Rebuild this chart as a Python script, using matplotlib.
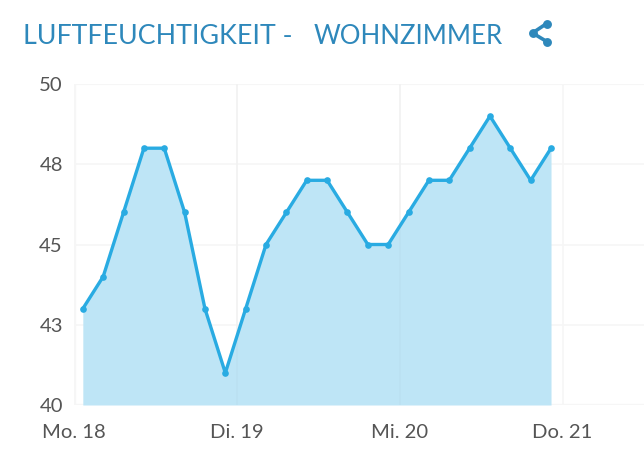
import numpy as np
import matplotlib
matplotlib.use("Agg")
import matplotlib.pyplot as plt
from matplotlib.lines import Line2D
from matplotlib.transforms import ScaledTranslation

plt.rcParams['font.family'] = ['Lato', 'DejaVu Sans']

W, H = 644, 462
title_left = "LUFTFEUCHTIGKEIT -"
title_right = "WOHNZIMMER"
hours = [1.3 + 3 * i for i in range(24)]
humidity = [43, 44, 46, 48, 48, 46, 43, 41, 43, 45, 46, 47, 47, 46, 45, 45, 46, 47, 47, 48, 49, 48, 47, 48]
y_ticks = [40, 42.5, 45, 47.5, 50]
y_labels = ["40", "43", "45", "48", "50"]
x_ticks = [0, 24, 48, 72]
x_labels = ["Mo. 18", "Di. 19", "Mi. 20", "Do. 21"]

LINE = "#29ABE2"
TITLE = "#2E88BB"
GRID = "#F6F6F6"
TEXT = "#555555"

fig = plt.figure(figsize=(W / 100, H / 100), dpi=100)
ax = fig.add_axes([74 / W, 1 - 405 / H, (W - 74) / W, (405 - 84) / H])
ax.set_xlim(0, 84)
ax.set_ylim(40, 50)
ax.set_axisbelow(True)
ax.grid(True, color=GRID, lw=1.2)
for s in ax.spines.values():
    s.set_visible(False)
ax.axvline(0, color=GRID, lw=2.4)
ax.axhline(40, color=GRID, lw=2.4)
ax.axhline(50, color=GRID, lw=1.6)
ax.fill_between(hours, humidity, 40, color="#BEE5F6", lw=0, zorder=2)
for t in x_ticks[1:3]:
    ax.plot([t, t], [40, 50], color="#000000", alpha=0.02, lw=1.2, zorder=2.5)
ax.plot(hours, humidity, color=LINE, lw=2.4, marker="o", ms=4.8, mew=0,
        clip_on=False, zorder=3, solid_joinstyle="round")
ax.set_xticks(x_ticks, x_labels)
ax.set_yticks(y_ticks, y_labels)
ax.tick_params(length=0, labelsize=14.6, labelcolor=TEXT, pad=0)
ax.tick_params(axis="x", pad=13.7)
ax.tick_params(axis="y", pad=8)
shift = ScaledTranslation(0, -1.2 / 72, fig.dpi_scale_trans)
for lab in ax.get_yticklabels():
    lab.set_va("center")
    lab.set_transform(lab.get_transform() + shift)

fig.text(23 / W, 1 - 36 / H, title_left, color=TITLE, fontsize=19.3, va="center", ha="left")
fig.text(314 / W, 1 - 36 / H, title_right, color=TITLE, fontsize=18.6, va="center", ha="left")

# share icon
pts = [(546.7, 23.5), (532.5, 33), (546.7, 41.5)]
px = lambda x, y: (x / W, 1 - y / H)
xs, ys = zip(*[px(*p) for p in pts])
fig.add_artist(Line2D(xs, ys, color=TITLE, lw=2.6))
for p in pts:
    fig.add_artist(Line2D([px(*p)[0]], [px(*p)[1]], marker="o", ms=6.4, mew=0, color=TITLE))

fig.savefig("out.png", dpi=100)
